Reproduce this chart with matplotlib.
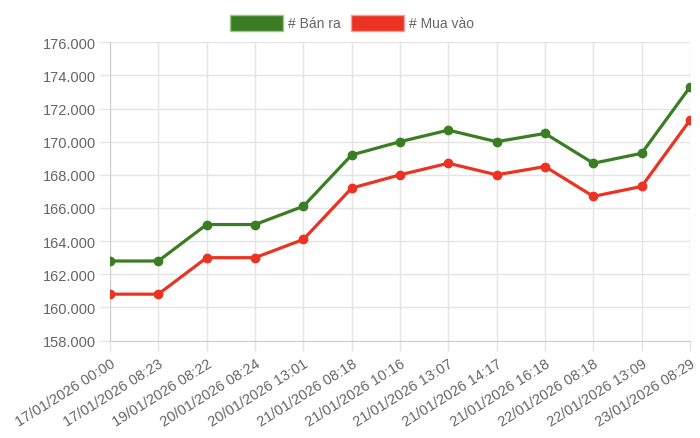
import matplotlib.pyplot as plt
from matplotlib.patches import Patch
from matplotlib.ticker import FuncFormatter

plt.rcParams['font.family'] = ['Liberation Sans', 'DejaVu Sans']

labels = ["17/01/2026 00:00", "17/01/2026 08:23", "19/01/2026 08:22", "20/01/2026 08:24",
          "20/01/2026 13:01", "21/01/2026 08:18", "21/01/2026 10:16", "21/01/2026 13:07",
          "21/01/2026 14:17", "21/01/2026 16:18", "22/01/2026 08:18", "22/01/2026 13:09",
          "23/01/2026 08:29"]
ban_ra = [162800, 162800, 165000, 165000, 166100, 169200, 170000, 170700,
          170000, 170500, 168700, 169300, 173300]
mua_vao = [160800, 160800, 163000, 163000, 164100, 167200, 168000, 168700,
           168000, 168500, 166700, 167300, 171300]

green = '#3a7d22'
red = '#ea3323'
text_col = '#666666'
grid_col = '#e4e4e4'

fig = plt.figure(figsize=(7, 4.39), dpi=100)
ax = fig.add_axes([0.1571, 0.222, 0.8286, 0.6794])

x = list(range(len(labels)))
ax.plot(x, ban_ra, color=green, lw=2.3, marker='o', ms=6, zorder=3)
ax.plot(x, mua_vao, color=red, lw=2.3, marker='o', ms=6, zorder=3)

ax.set_xlim(0, len(labels) - 1)
ax.set_ylim(158000, 176000)
ax.set_yticks(range(158000, 176001, 2000))
ax.yaxis.set_major_formatter(FuncFormatter(lambda v, p: f"{int(v):,}".replace(',', '.')))
ax.set_xticks(x)
ax.set_xticklabels(labels, rotation=32, ha='right', rotation_mode='anchor')

ax.grid(True, color=grid_col, lw=1)
ax.set_axisbelow(True)
for s in ['top', 'right']:
    ax.spines[s].set_visible(False)
for s in ['left', 'bottom']:
    ax.spines[s].set_color('#cfcfcf')
ax.tick_params(axis='both', colors=grid_col, labelcolor=text_col, labelsize=10.5, length=7, width=1)
ax.tick_params(axis='y', pad=3)
ax.tick_params(axis='x', pad=4)

handles = [Patch(facecolor=green, edgecolor='#9cc48e', lw=1, label='# Bán ra'),
           Patch(facecolor=red, edgecolor='#f5a09a', lw=1, label='# Mua vào')]
fig.legend(handles=handles, loc='center', bbox_to_anchor=(0.503, 0.946), ncol=2, frameon=False,
           fontsize=10, labelcolor=text_col, handlelength=3.8, handleheight=1.37,
           handletextpad=0.36, columnspacing=0.77, borderpad=0)

fig.savefig('out.png', dpi=100)
